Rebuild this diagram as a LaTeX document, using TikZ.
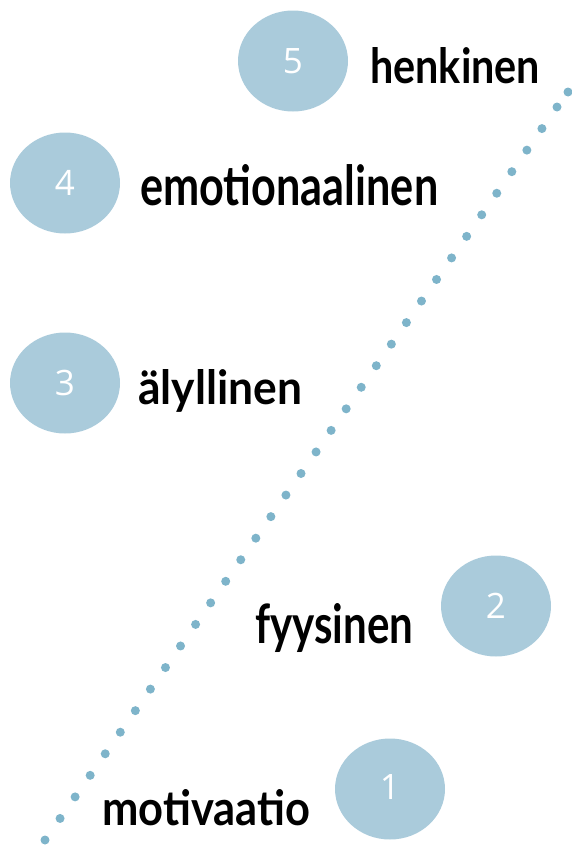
\documentclass[tikz,border=0pt]{standalone}
\usepackage{fontspec}
\usepackage{graphicx}
\newfontfamily\handf{Lato}
\newfontfamily\numf{Open Sans}
\usetikzlibrary{calc}
\definecolor{ballc}{HTML}{AACBDB}
\definecolor{dotc}{HTML}{7EB4CA}
\tikzset{
  ball/.style={ellipse,fill=ballc,minimum width=110pt,minimum height=101pt,inner sep=0pt,
    font=\numf\fontsize{35}{35}\selectfont,text=white},
  word/.style={anchor=base west,inner sep=0pt,font=\handf\bfseries\fontsize{40}{40}\selectfont,text=black},
  dotmark/.style={circle,fill=dotc,minimum size=9pt,inner sep=0pt}
}
\usetikzlibrary{shapes.geometric}
\begin{document}
\begin{tikzpicture}[x=1pt,y=-1pt]
\useasboundingbox (0,0) rectangle (572,846);
% dotted diagonal
\coordinate (ds) at (45,840);
\coordinate (de) at (557,107);
\coordinate (dt) at (568,92);
\foreach \i in {0,...,34} \node[dotmark] (d\i) at ($(ds)!\i/34!(de)$) {};
\node[dotmark] (dlast) at (dt) {};
% balls
\node[ball] (b5) at (293,61) {5};
\node[ball] (b4) at (65,183) {4};
\node[ball] (b3) at (65,383) {3};
\node[ball] (b2) at (496,606) {2};
\node[ball] (b1) at (390,789) {};
\node[text=white,font=\numf\fontsize{35}{35}\selectfont,inner sep=0pt] (n1) at (390,787) {1};
% words
\node[word] (w5) at (370,83) {\resizebox{170pt}{36pt}{henkinen}};
\node[word] (w4) at (140,205) {\resizebox{298pt}{41pt}{emotionaalinen}};
\node[word] (w3) at (138,404) {\resizebox{164pt}{35pt}{älyllinen}};
\node[word] (w2) at (255,643) {\resizebox{158pt}{40pt}{fyysinen}};
\node[word] (w1) at (102,825) {\resizebox{208pt}{36pt}{motivaatio}};
\end{tikzpicture}
\end{document}
